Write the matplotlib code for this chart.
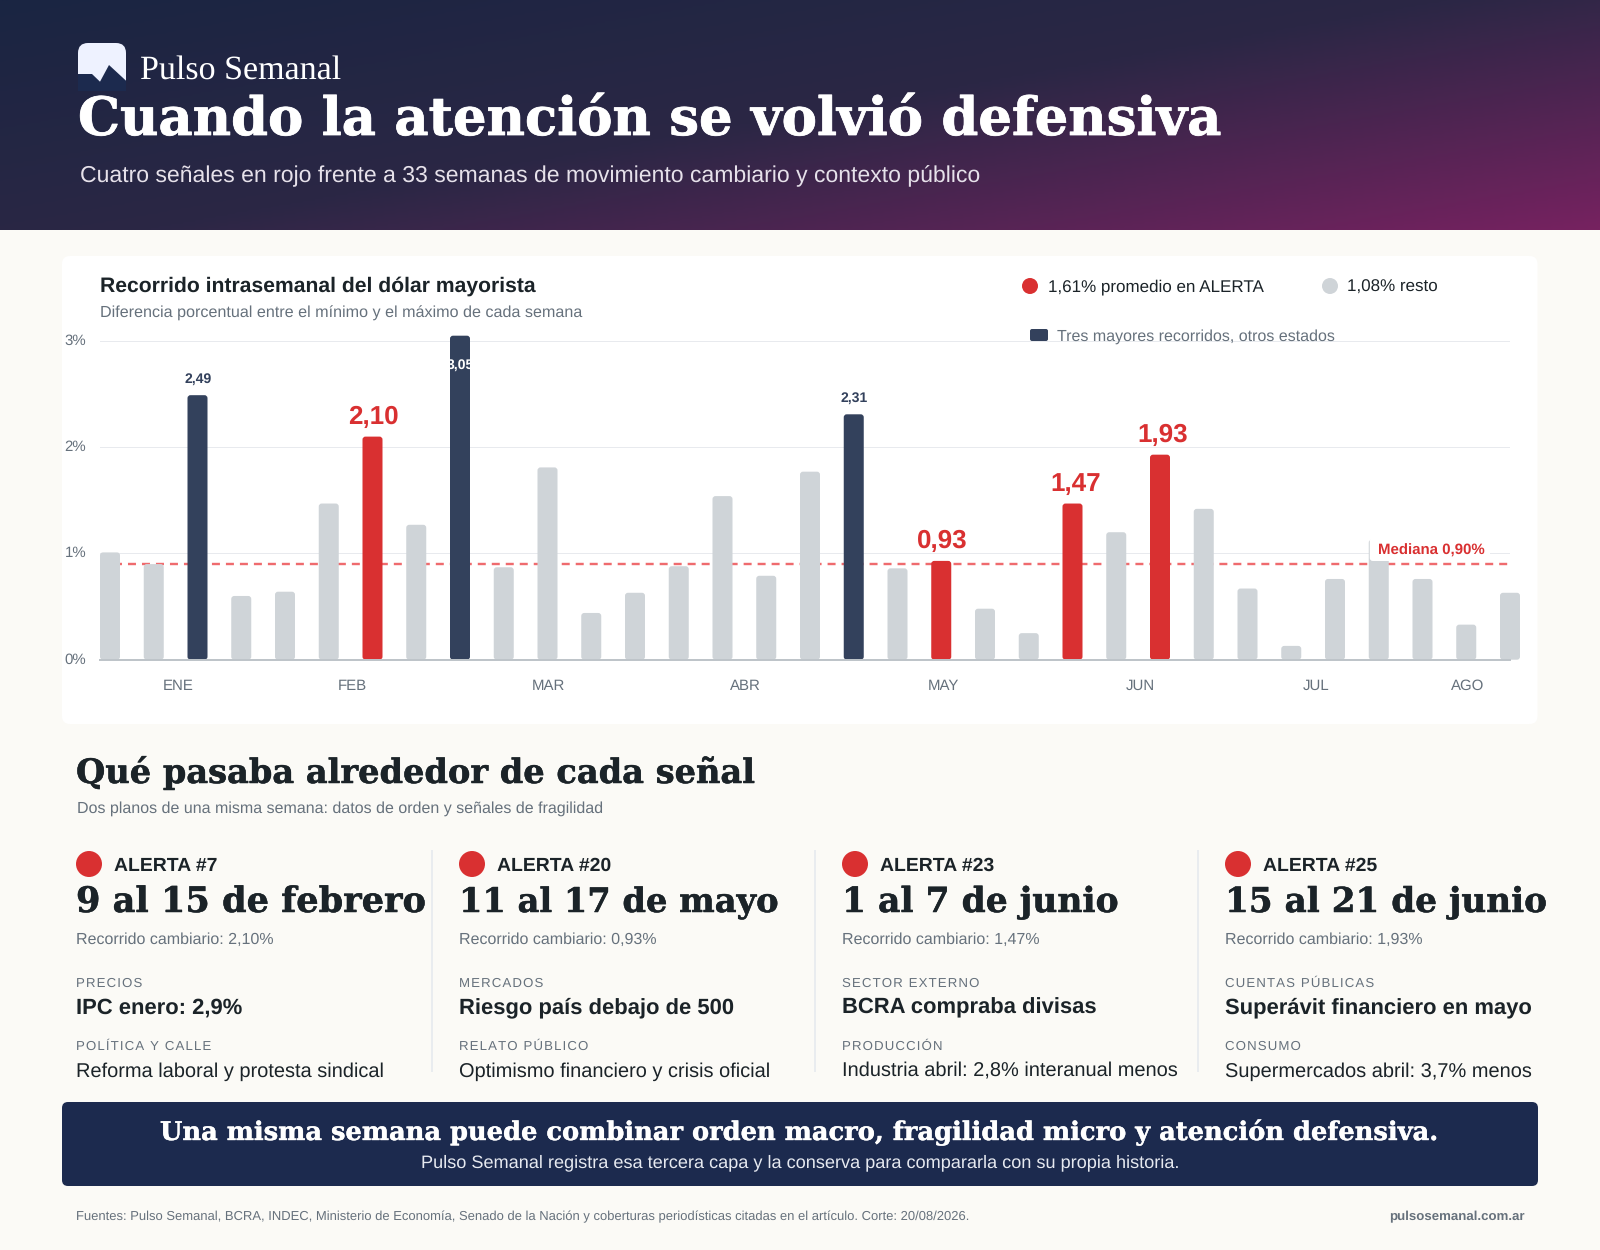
import numpy as np
import matplotlib
matplotlib.use('Agg')
import matplotlib.pyplot as plt
import matplotlib.patheffects as pe
from matplotlib.colors import LinearSegmentedColormap
from matplotlib.patches import FancyBboxPatch, Polygon, Circle, Rectangle

plt.rcParams['text.hinting'] = 'no_hinting'

# datos semanales (recorrido %)
semanas = [1.01, 0.90, 2.49, 0.60, 0.64, 1.47, 2.10, 1.27, 3.05, 0.87, 1.81,
           0.44, 0.63, 0.88, 1.54, 0.79, 1.77, 2.31, 0.86, 0.93, 0.48, 0.25,
           1.47, 1.20, 1.93, 1.42, 0.67, 0.13, 0.76, 1.13, 0.76, 0.33, 0.63]
alertas = [6, 19, 22, 24]
mayores = [2, 8, 17]
mediana = 0.90
meses = ['ENE', 'FEB', 'MAR', 'ABR', 'MAY', 'JUN', 'JUL', 'AGO']
meses_pos = [1.55, 5.55, 10.03, 14.53, 19.05, 23.55, 27.57, 31.03]
y_ticks = [0, 1, 2, 3]

tarjetas_alerta = ['ALERTA #7', 'ALERTA #20', 'ALERTA #23', 'ALERTA #25']
tarjetas_fecha = ['9 al 15 de febrero', '11 al 17 de mayo', '1 al 7 de junio', '15 al 21 de junio']
tarjetas_recorrido = ['2,10%', '0,93%', '1,47%', '1,93%']
tarjetas_tema1 = ['PRECIOS', 'MERCADOS', 'SECTOR EXTERNO', 'CUENTAS PÚBLICAS']
tarjetas_dato1 = ['IPC enero: 2,9%', 'Riesgo país debajo de 500', 'BCRA compraba divisas',
                  'Superávit financiero en mayo']
tarjetas_tema2 = ['POLÍTICA Y CALLE', 'RELATO PÚBLICO', 'PRODUCCIÓN', 'CONSUMO']
tarjetas_dato2 = ['Reforma laboral y protesta sindical', 'Optimismo financiero y crisis oficial',
                  'Industria abril: 2,8% interanual menos', 'Supermercados abril: 3,7% menos']

ROJO = '#D93031'
NAVY = '#33415C'
GRIS = '#CFD4D8'
TINTA = '#1B2328'
GRIS_TXT = '#66717C'
AZUL = '#1C2A4E'
SANS = 'Liberation Sans'
SERIF = 'DejaVu Serif'


def px(n):
    # tamaños en pixeles -> puntos
    return n * 0.72


fig = plt.figure(figsize=(16, 12.5), dpi=100, facecolor='#FBFAF6')
bg = fig.add_axes([0, 0, 1, 1])
bg.set_xlim(0, 1600)
bg.set_ylim(1250, 0)
bg.axis('off')


def txt(x, y, s, size, color=TINTA, bold=False, family=SANS, ha='left', width=None, grueso=0, **kw):
    t = bg.text(x, y, s, fontsize=px(size), color=color, family=family, ha=ha, va='baseline',
                fontweight='bold' if bold else 'normal', **kw)
    if width is not None:
        # ajusta el tamaño al ancho pedido
        for _ in range(2):
            w = t.get_window_extent(fig.canvas.get_renderer()).width
            t.set_fontsize(t.get_fontsize() * width / w)
    if grueso:
        t.set_path_effects([pe.withStroke(linewidth=px(grueso), foreground=color)])
    return t


def caja(x0, y0, x1, y1, r, color, ax=bg, z=1):
    ax.add_patch(FancyBboxPatch((x0, y0), x1 - x0, y1 - y0, boxstyle='round,pad=0,rounding_size=%s' % r,
                                fc=color, ec='none', zorder=z))


# cabecera con degradado
xx, yy = np.meshgrid(np.linspace(0, 1600, 400), np.linspace(0, 230, 120))
prog = (xx * 0.174 + yy * 0.985) / (1600 * 0.174 + 230 * 0.985)
cmap = LinearSegmentedColormap.from_list('hdr', [(0, '#1A2542'), (0.5, '#2B2745'), (1, '#762260')])
bg.imshow(prog, extent=(0, 1600, 230, 0), cmap=cmap, vmin=0, vmax=1, aspect='auto', zorder=0)
bg.set_xlim(0, 1600)
bg.set_ylim(1250, 0)

caja(78, 43, 126, 91, 10, '#EEF2FF', z=2)
bg.add_patch(Polygon([(78, 74), (92, 74), (100, 81.7), (109, 65), (126, 80.7), (126, 91), (78, 91)],
                     fc=AZUL, ec='none', zorder=3))
txt(140, 79, 'Pulso Semanal', 32, color='white', family='Liberation Serif', width=201, zorder=4)
txt(78, 135, 'Cuando la atención se volvió defensiva', 56, color='white', bold=True, family=SERIF,
    width=1144, grueso=0.8, zorder=4)
txt(80, 182.5, 'Cuatro señales en rojo frente a 33 semanas de movimiento cambiario y contexto público',
    23, color='#E6E1EA', width=903, zorder=4)

# panel del grafico
caja(62, 256, 1537.5, 724, 8, 'white')
txt(100, 291.5, 'Recorrido intrasemanal del dólar mayorista', 20, bold=True, width=434, zorder=5)
txt(100, 317.5, 'Diferencia porcentual entre el mínimo y el máximo de cada semana', 16, color=GRIS_TXT,
    width=482, zorder=5)
bg.add_patch(Circle((1030, 286), 8, fc=ROJO, ec='none', zorder=5))
txt(1048, 291.4, '1,61% promedio en ALERTA', 17, zorder=5)
bg.add_patch(Circle((1330, 286), 8, fc=GRIS, ec='none', zorder=5))
txt(1347, 291.4, '1,08% resto', 17, zorder=5)

# escala: semana 0 en x=110, 43,75 px por semana; 106,3 px por punto
ax = fig.add_axes([100 / 1600, (1250 - 659.7) / 1250, 1410 / 1600, 318.7 / 1250], zorder=2)
ax.patch.set_alpha(0)
ax.set_xlim(-10 / 43.75, 32)
ax.set_ylim(0, 3)
for s in ['top', 'left', 'right']:
    ax.spines[s].set_visible(False)
ax.spines['bottom'].set_color('#BEC4C9')
ax.spines['bottom'].set_linewidth(px(2))
ax.spines['bottom'].set_zorder(4)
ax.set_yticks(y_ticks)
ax.set_yticklabels(['%d%%' % v for v in y_ticks], fontsize=px(15), color=GRIS_TXT, family=SANS, va='center')
ax.set_xticks(meses_pos)
ax.set_xticklabels(meses, fontsize=px(15), color=GRIS_TXT, family=SANS)
ax.tick_params(axis='both', length=0)
ax.tick_params(axis='y', pad=10)
ax.tick_params(axis='x', pad=14)
ax.yaxis.grid(True, color='#E8EAEE', linewidth=px(1))
ax.set_axisbelow(True)
ax.axhline(mediana, color='#EF6B6E', linewidth=px(2.4), dashes=(3.33, 2.5), zorder=2)

ancho = 20 / 43.75
radio = 3 / 43.75
aspecto = 43.75 / 106.23
desvio = {6: 1, 19: 1, 22: 3, 24: 3, 2: 1}
for i, v in enumerate(semanas):
    color = ROJO if i in alertas else NAVY if i in mayores else GRIS
    barra = FancyBboxPatch((i - ancho / 2, 0), ancho, v, boxstyle='round,pad=0,rounding_size=%s' % radio,
                           mutation_aspect=aspecto, fc=color, ec='none', zorder=3, clip_on=False)
    ax.add_patch(barra)
    dx = px(desvio.get(i, 0))
    if i in alertas:
        ax.annotate(('%.2f' % v).replace('.', ','), (i, v), xytext=(dx, px(12.5)), textcoords='offset points',
                    ha='center', va='baseline', fontsize=px(26), fontweight='bold', color=ROJO, family=SANS,
                    zorder=6, annotation_clip=False)
    elif i == 8:
        etiqueta = ax.annotate(('%.2f' % v).replace('.', ','), (i, v), xytext=(0, px(-33)),
                               textcoords='offset points', ha='center', va='baseline', fontsize=px(14),
                               fontweight='bold', color='white', family=SANS, zorder=6, annotation_clip=False)
        etiqueta.set_clip_path(barra)
        etiqueta.set_clip_on(True)
    elif i in mayores:
        ax.annotate(('%.2f' % v).replace('.', ','), (i, v), xytext=(dx, px(12.5)), textcoords='offset points',
                    ha='center', va='baseline', fontsize=px(14), fontweight='bold', color=NAVY, family=SANS,
                    zorder=6, annotation_clip=False)

# etiqueta de la mediana, tapa la barra que queda detras
fondo = fig.add_axes([0, 0, 1, 1], zorder=3)
fondo.set_xlim(0, 1600)
fondo.set_ylim(1250, 0)
fondo.axis('off')
caja(1369.8, 538, 1490, 561, 3, 'white', ax=fondo)
fondo.text(1378, 554.5, 'Mediana 0,90%', fontsize=px(15), fontweight='bold', color=ROJO, family=SANS, va='baseline')

# leyenda que pisa la linea del 3%
fondo.add_patch(FancyBboxPatch((1030, 329), 18, 12, boxstyle='round,pad=0,rounding_size=2', fc=NAVY, ec='none'))
fondo.text(1057, 340.5, 'Tres mayores recorridos, otros estados', fontsize=px(16), color=GRIS_TXT, family=SANS,
           va='baseline')

# seccion inferior
txt(76, 783, 'Qué pasaba alrededor de cada señal', 36, bold=True, family=SERIF, width=679, grueso=0.5)
txt(77, 813, 'Dos planos de una misma semana: datos de orden y señales de fragilidad', 16, color=GRIS_TXT,
    width=526)

columnas = [76, 459, 842, 1225]
for k, x in enumerate(columnas):
    bg.add_patch(Circle((x + 13, 864), 13, fc=ROJO, ec='none'))
    txt(x + 38, 871, tarjetas_alerta[k], 19.4, bold=True)
    txt(x, 912, tarjetas_fecha[k], 40, bold=True, family=SERIF,
        width=[350, 320, 277, 322][k], grueso=0.5)
    txt(x, 944, 'Recorrido cambiario: ' + tarjetas_recorrido[k], 16, color=GRIS_TXT)
    txt(x, 987, '\u200a'.join(tarjetas_tema1[k]), 13.2, color=GRIS_TXT)
    txt(x, 1013.6, tarjetas_dato1[k], 22, bold=True)
    txt(x, 1050, '\u200a'.join(tarjetas_tema2[k]), 13.2, color=GRIS_TXT)
    txt(x, 1076.6, tarjetas_dato2[k], 20)
    if k < 3:
        bg.add_patch(Rectangle((x + 355, 850), 1.5, 222, fc='#E9ECEF', ec='none'))

# banda final
caja(62, 1102, 1538, 1186, 6, AZUL)
txt(800, 1140, 'Una misma semana puede combinar orden macro, fragilidad micro y atención defensiva.', 28,
    color='white', bold=True, family=SERIF, ha='center', width=1276, grueso=0.4, zorder=4)
txt(800, 1167.5, 'Pulso Semanal registra esa tercera capa y la conserva para compararla con su propia historia.',
    18, color='#E6E9F0', ha='center', width=756, zorder=4)

txt(76, 1220, 'Fuentes: Pulso Semanal, BCRA, INDEC, Ministerio de Economía, Senado de la Nación y coberturas '
    'periodísticas citadas en el artículo. Corte: 20/08/2026.', 12.5, color=GRIS_TXT, width=899)
txt(1525, 1220, 'pulsosemanal.com.ar', 13.2, color=GRIS_TXT, bold=True, ha='right')

fig.savefig('out.png', dpi=100, facecolor=fig.get_facecolor())
